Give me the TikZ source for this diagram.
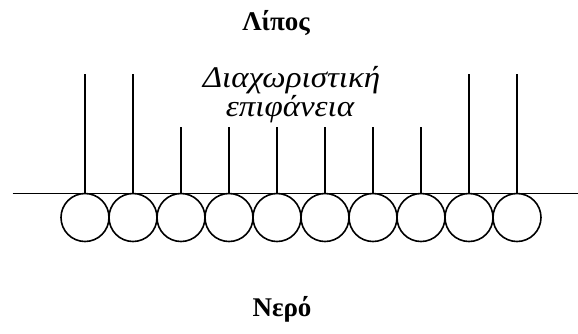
\documentclass[tikz,border=0pt]{standalone}
\usepackage{fontspec}
\setmainfont{Liberation Serif}
\newfontfamily\notefont[FakeStretch=1.1]{Liberation Serif}
\begin{document}
\begin{tikzpicture}[x=1pt,y=-1pt,
  line width=1.6pt,
  headgroup/.style={circle, draw, minimum size=48pt, inner sep=0pt},
  title/.style={font=\fontsize{27}{32}\selectfont\bfseries, anchor=base, inner sep=0pt},
  caption/.style={font=\notefont\fontsize{30}{36}\selectfont\itshape, anchor=base, inner sep=0pt}]
  \useasboundingbox (0,0) rectangle (578,333);

  % interface line
  \coordinate (lineL) at (12.5,193.5);
  \coordinate (lineR) at (578,193.5);
  \draw (lineL) -- (lineR);

  % polar heads with their hydrophobic tails
  \foreach \i/\len in {0/120, 1/120, 2/67, 3/67, 4/67, 5/67, 6/67, 7/67, 8/120, 9/120} {
    \node[headgroup] (c\i) at (85+48*\i, 217.5) {};
    \coordinate (t\i) at (85+48*\i, 193.5-\len);
    \draw (c\i.north) -- (t\i);
  }

  \node[title] (oil) at (276,30) {Λίπος};
  \node[caption] (cap1) at (291.5,87) {Διαχωριστική};
  \node[caption] (cap2) at (290,116) {επιφάνεια};
  \node[title] (water) at (282,316) {Νερό};
\end{tikzpicture}
\end{document}
